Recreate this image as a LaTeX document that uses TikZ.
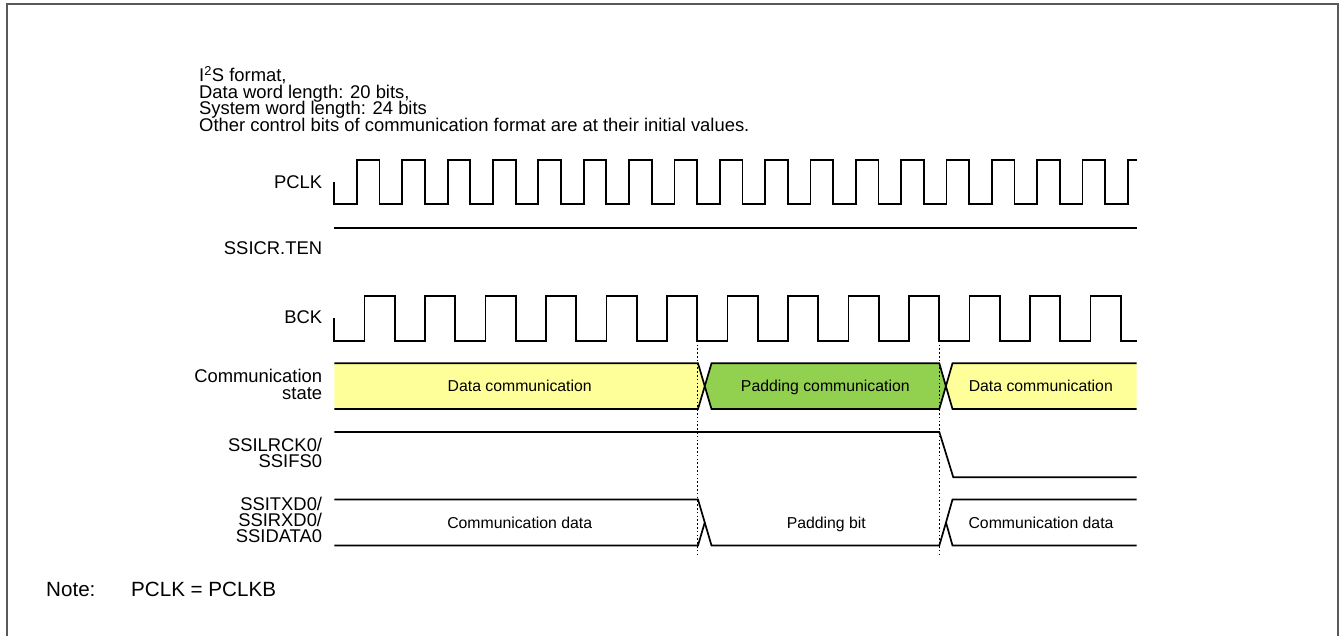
\documentclass[tikz,border=0pt]{standalone}
\usepackage{fontspec}
\setmainfont{Liberation Sans}
\lineskiplimit=-50pt
\definecolor{stateyellow}{HTML}{FFFF99}
\definecolor{stategreen}{HTML}{92D050}
\definecolor{framegray}{HTML}{595959}
\tikzset{
  wave/.style={line width=1.7pt, line join=miter, line cap=butt},
  marker/.style={line width=1.5pt, dash pattern=on 1.6pt off 2.2pt},
  framebox/.style={draw=framegray, line width=2pt},
  lbl/.style={anchor=base east, inner sep=0pt, font=\fontsize{18.4}{16.7}\selectfont},
  hdr/.style={anchor=base west, inner sep=0pt, font=\fontsize{18.4}{16.7}\selectfont},
  notetxt/.style={anchor=base west, inner sep=0pt, font=\fontsize{20.6}{22}\selectfont},
  intxt/.style={anchor=base, inner sep=0pt, font=\fontsize{15.8}{18}\selectfont},
}
\begin{document}
\begin{tikzpicture}[x=1pt,y=-1pt]
\useasboundingbox (0,0) rectangle (1341,636);
% frame
\draw[framebox] (7,636) -- (7,4.3) -- (1338.3,4.3) -- (1338.3,636);

% header
\node[hdr] (h1) at (199,81.7) {I\textsuperscript{2}S format,};
\node[hdr] (h2) at (199,98.2) {Data word length: 20 bits,};
\node[hdr] (h3) at (199,114.7) {System word length: 24 bits};
\node[hdr] (h4) at (199,131.2) {Other control bits of communication format are at their initial values.};

% labels
\node[lbl] (lpclk) at (322.3,188.3) {PCLK};
\node[lbl] (lten) at (322.3,255) {SSICR.TEN};
\node[lbl] (lbck) at (322.3,323.3) {BCK};
\node[lbl] (lcs1) at (322.3,382.7) {Communication};
\node[lbl] (lcs2) at (322.3,399.3) {state};
\node[lbl] (llr1) at (322.3,451.5) {SSILRCK0/};
\node[lbl] (llr2) at (322.3,467.5) {SSIFS0};
\node[lbl] (ltx1) at (322.3,510.7) {SSITXD0/};
\node[lbl] (ltx2) at (322.3,526.7) {SSIRXD0/};
\node[lbl] (ltx3) at (322.3,542.7) {SSIDATA0};

% PCLK
\draw[wave] (334.3,182) -- (334.3,204.3)
  \foreach \i in {1,...,17}{ -- ++(22.67,0) -- ++(0,-44.3) -- ++(22.67,0) -- ++(0,44.3)}
  -- ++(22.67,0) -- ++(0,-44.3) -- (1136.7,160);

% SSICR.TEN
\draw[wave] (334.3,227.7) -- (1136.7,227.7);

% BCK
\draw[wave] (334.3,318) -- (334.3,341)
  \foreach \i in {1,...,13}{ -- ++(30.25,0) -- ++(0,-45.3) -- ++(30.25,0) -- ++(0,45.3)}
  -- (1136.7,341);

% Communication state
\fill[stateyellow] (334.3,363.3) -- (698,363.3) -- (704.75,386.2) -- (698,409) -- (334.3,409) -- cycle;
\draw[wave] (334.3,363.3) -- (698,363.3) -- (704.75,386.2) -- (698,409) -- (334.3,409);
\filldraw[wave, fill=stategreen] (711.5,363.3) -- (939.3,363.3) -- (945.9,386.2) -- (939.3,409) -- (711.5,409) -- (704.75,386.2) -- cycle;
\fill[stateyellow] (1136.7,363.3) -- (952.5,363.3) -- (945.9,386.2) -- (952.5,409) -- (1136.7,409) -- cycle;
\draw[wave] (1136.7,363.3) -- (952.5,363.3) -- (945.9,386.2) -- (952.5,409) -- (1136.7,409);
\node[intxt] (cs1) at (519.7,391.7) {Data communication};
\node[intxt] (cs2) at (825.3,391.7) {Padding communication};
\node[intxt] (cs3) at (1040.8,391.7) {Data communication};

% SSILRCK0
\draw[wave] (334.3,432) -- (939.3,432) -- (953.3,477.3) -- (1136.7,477.3);

% SSITXD0
\draw[wave] (334.3,499.5) -- (698,499.5) -- (704.75,522.5) -- (698,545.5) -- (334.3,545.5);
\draw[wave] (704.75,522.5) -- (711.5,545.5) -- (939.3,545.5) -- (946,522.5);
\draw[wave] (1136.7,499.5) -- (952.5,499.5) -- (946,522.5) -- (952.5,545.5) -- (1136.7,545.5);
\node[intxt] (d1) at (519.7,528.3) {Communication data};
\node[intxt] (d2) at (826.3,528.3) {Padding bit};
\node[intxt] (d3) at (1041,528.3) {Communication data};

% dotted markers
\coordinate (m1t) at (697.7,318);
\coordinate (m1b) at (697.7,554);
\coordinate (m2t) at (939.3,318);
\coordinate (m2b) at (939.3,554);
\draw[marker] (m1t) -- (m1b);
\draw[marker] (m2t) -- (m2b);

% note
\node[notetxt] (n1) at (46,596) {Note:};
\node[notetxt] (n2) at (131,596) {PCLK = PCLKB};
\end{tikzpicture}
\end{document}
